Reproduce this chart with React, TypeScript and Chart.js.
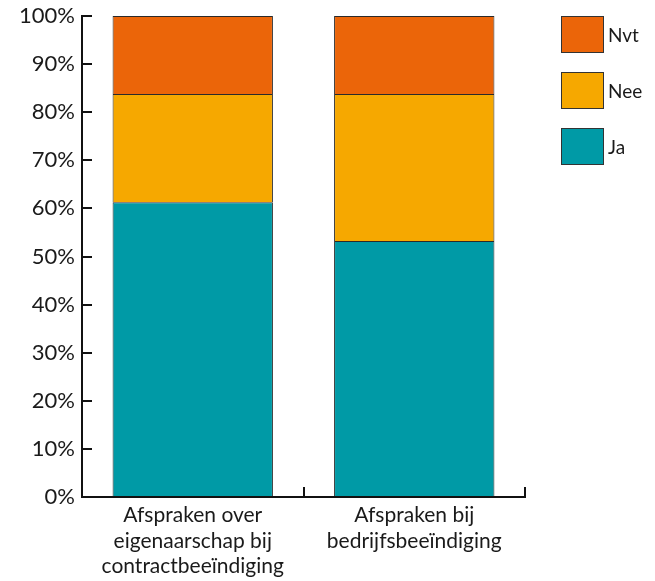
import React, { useEffect, useRef } from "react";
import { Chart, registerables } from "chart.js";

Chart.register(...registerables);

const categories: string[][] = [
  ["Afspraken over", "eigenaarschap bij", "contractbeeïndiging"],
  ["Afspraken bij", "bedrijfsbeeïndiging"],
];
const jaValues = [61.3, 53.2];
const neeValues = [22.5, 30.6];
const nvtValues = [16.2, 16.2];
const seriesLabels = ["Ja", "Nee", "Nvt"];
const seriesColors = ["#009AA6", "#F6A800", "#EB6509"];

const FONT = "Lato, 'Open Sans', sans-serif";

const legendPlugin = {
  id: "customLegend",
  afterDraw(chart: any) {
    const { ctx, chartArea } = chart;
    const datasets = chart.data.datasets;
    const boxW = 43;
    const boxH = 37;
    const gap = 56;
    const x = chartArea.right + 36;
    ctx.save();
    ctx.font = `19px ${FONT}`;
    ctx.textBaseline = "middle";
    ctx.textAlign = "left";
    const order = [...datasets.keys()].reverse();
    order.forEach((di: number, i: number) => {
      const ds = datasets[di];
      const y = chartArea.top + i * gap;
      ctx.fillStyle = ds.backgroundColor;
      ctx.fillRect(x, y, boxW, boxH);
      ctx.strokeStyle = "#333";
      ctx.lineWidth = 1;
      ctx.strokeRect(x + 0.5, y + 0.5, boxW - 1, boxH - 1);
      ctx.fillStyle = "#1a1a1a";
      ctx.fillText(ds.label, x + boxW + 4, y + boxH / 2 + 1);
    });
    ctx.restore();
  },
};

export default function App() {
  const ref = useRef<HTMLCanvasElement>(null);
  useEffect(() => {
    if (!ref.current) return;
    const values = [jaValues, neeValues, nvtValues];
    const chart = new Chart(ref.current, {
      type: "bar",
      data: {
        labels: categories,
        datasets: values.map((v, i) => ({
          label: seriesLabels[i],
          data: v,
          backgroundColor: seriesColors[i],
          borderColor: "#2a2a2a",
          borderWidth: 1,
          categoryPercentage: 1,
          barPercentage: 0.724,
        })),
      },
      options: {
        responsive: false,
        animation: false,
        layout: { padding: { left: 0, right: 130, top: 16, bottom: 0 } },
        plugins: {
          legend: { display: false },
          tooltip: { enabled: false },
        },
        scales: {
          x: {
            stacked: true,
            afterFit: (scale: any) => {
              scale.height = 84;
            },
            border: { display: true, color: "#111", width: 2 },
            grid: {
              display: true,
              drawOnChartArea: false,
              tickLength: -10,
              color: "#111",
              lineWidth: 2,
              offset: true,
            },
            ticks: {
              color: "#1a1a1a",
              font: { family: FONT, size: 21, lineHeight: 1.2 },
              padding: 16,
              maxRotation: 0,
            },
          },
          y: {
            stacked: true,
            min: 0,
            max: 100,
            afterFit: (scale: any) => {
              scale.width = 82;
              scale.paddingTop = 0;
              scale.paddingBottom = 0;
            },
            border: { display: true, color: "#111", width: 2 },
            grid: {
              display: true,
              drawOnChartArea: false,
              tickLength: -10,
              color: "#111",
              lineWidth: 2,
            },
            ticks: {
              stepSize: 10,
              color: "#1a1a1a",
              font: { family: FONT, size: 22 },
              padding: 17,
              callback: (v: any) => `${v}%`,
            },
          },
        },
      },
      plugins: [legendPlugin],
    });
    return () => chart.destroy();
  }, []);
  return (
    <div style={{ position: "absolute", left: 0, top: 0, width: 655, height: 581 }}>
      <canvas ref={ref} width={655} height={581} />
    </div>
  );
}
